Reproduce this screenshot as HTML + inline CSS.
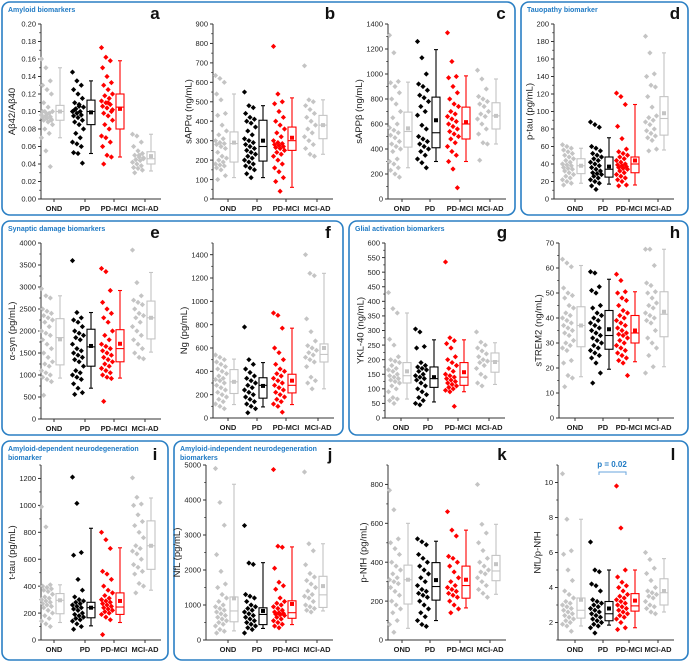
<!DOCTYPE html>
<html><head><meta charset="utf-8"><style>
body{margin:0;background:#fff;}
svg{display:block;font-family:"Liberation Sans",sans-serif;}
</style></head><body>
<svg id="fig" width="690" height="662" viewBox="0 0 690 662" xmlns="http://www.w3.org/2000/svg"></svg>
<script>
const groupNames = ["OND","PD","PD-MCI","MCI-AD"];
// panel a
const aDots = [[0.16,0.15,0.135,0.13,0.125,0.12,0.11,0.105,0.10,0.10,0.098,0.096,0.095,0.094,0.093,0.092,0.09,0.09,0.088,0.085,0.08,0.075,0.07,0.055,0.037,0.1,0.097,0.091],
[0.145,0.135,0.13,0.125,0.12,0.115,0.11,0.108,0.105,0.103,0.1,0.1,0.098,0.096,0.095,0.093,0.09,0.088,0.085,0.08,0.075,0.07,0.065,0.063,0.06,0.053,0.052,0.041,0.102,0.106],
[0.173,0.162,0.158,0.15,0.14,0.133,0.13,0.125,0.12,0.118,0.115,0.112,0.11,0.108,0.106,0.104,0.1,0.098,0.095,0.09,0.085,0.08,0.072,0.07,0.065,0.06,0.05,0.048,0.04,0.11,0.102],
[0.074,0.072,0.065,0.06,0.055,0.052,0.05,0.048,0.047,0.045,0.044,0.042,0.04,0.038,0.036,0.035,0.033,0.03,0.05,0.046]];
const aBox = [[0.07,0.09,0.10,0.107,0.15,0.10],[0.052,0.085,0.10,0.113,0.135,0.099],[0.048,0.08,0.105,0.12,0.158,0.103],[0.032,0.04,0.046,0.054,0.074,0.049]];
// panel b
const bDots = [[635,620,600,540,510,440,430,380,350,330,310,300,290,285,280,270,260,240,220,210,200,190,180,175,170,160,150,120,100],
[550,480,470,440,420,410,400,390,370,350,330,310,300,290,280,270,260,250,240,230,220,210,200,190,180,170,160,150,130,110],
[785,540,500,490,450,420,400,380,360,340,320,300,290,285,280,275,270,265,260,250,240,230,220,200,180,160,140,110,90,40],
[685,510,500,480,460,440,420,400,380,360,340,320,300,280,260,230,220]];
const bBox = [[110,190,285,345,540,290],[110,195,270,405,480,300],[60,250,300,370,520,315],[230,310,380,430,510,380]];
// panel c
const cDots = [[1310,1170,940,930,900,850,800,760,700,650,600,570,550,530,510,490,460,440,420,400,380,320,300,280,250,230,200,175],
[1260,1130,1000,920,900,870,830,810,780,740,700,670,590,560,500,480,460,440,420,400,380,350,320,290,250],
[1330,1100,980,970,900,850,800,760,740,700,680,660,640,620,600,580,560,540,520,500,480,450,420,380,350,300,240,90],
[1030,960,880,820,800,780,760,740,700,680,660,640,600,560,520,450,440,310]];
const cBox = [[250,415,540,695,935,565],[300,410,530,815,1195,630],[300,480,600,735,985,615],[440,560,665,770,960,665]];
// panel d
const dDots = [[62,60,58,56,54,52,50,48,46,44,42,40,39,38,36,35,34,32,30,28,26,24,22,20,18,16],
[88,85,82,60,58,55,52,50,48,46,44,42,40,38,36,34,32,30,29,28,26,24,22,20,18,15,11],
[121,117,108,83,69,57,54,52,50,48,46,44,42,40,39,38,37,36,35,34,32,30,28,26,24,22,20,16,15],
[186,167,143,140,130,128,117,105,95,93,90,88,85,80,78,75,72,70,67,57,55]];
const dBox = [[18,29,38,46,58,38],[17,25,34,48,70,37],[16,30,40,48,108,44],[56,73,92,117,167,98]];
// panel e
const eDots = [[2960,2800,2750,2500,2450,2400,2350,2300,2250,2200,2100,2000,1950,1900,1800,1700,1600,1500,1400,1300,1250,1200,1100,1050,1000,950,900,850,540],
[3600,2420,2300,2250,2200,2100,2000,1950,1900,1850,1800,1700,1600,1550,1500,1450,1400,1350,1300,1200,1100,1050,1000,950,900,800,700,600,560],
[3420,3350,2920,2650,2500,2400,2300,2200,2000,1900,1800,1700,1650,1600,1550,1500,1450,1400,1350,1300,1250,1200,1150,1100,1050,1000,950,920,400],
[3840,3100,2800,2700,2650,2600,2500,2400,2350,2300,2200,2100,2000,1900,1800,1700,1600,1500,1400,1370]];
const eBox = [[930,1230,1850,2280,2800,1810],[700,1200,1640,2040,2420,1660],[930,1300,1600,2030,2920,1710],[1520,1820,2300,2680,3330,2300]];
// panel f
const fDots = [[540,520,500,480,460,440,420,400,380,360,340,330,320,300,280,260,240,220,200,180,160,140,120,100,80],
[780,500,460,420,390,360,340,320,300,280,260,240,220,200,180,160,140,120,100,80,45],
[900,880,770,600,560,500,460,420,400,380,360,340,320,300,280,260,240,220,200,180,160,140,120,100,50],
[1400,1240,1220,850,740,660,620,600,580,560,540,520,500,480,440,350,320,300,250]];
const fBox = [[115,210,310,415,505,310],[95,170,280,345,475,275],[115,215,280,375,770,320],[250,480,545,635,1240,600]];
// panel g
const gDots = [[430,375,360,270,250,210,200,195,190,180,170,165,160,150,145,140,135,130,125,120,110,100,90,70,65,60,50],
[305,295,245,240,190,180,175,170,165,160,150,145,140,135,130,120,110,100,90,80,70,60,50,45],
[535,275,265,255,240,210,200,190,180,170,160,150,145,140,135,130,125,120,115,110,105,100,95,90,40],
[295,260,250,240,230,220,210,200,195,190,180,170,150,140,120,110]];
const gBox = [[65,120,145,190,360,160],[55,105,135,175,268,140],[90,112,140,190,268,157],[115,157,195,223,258,192]];
// panel h
const hDots = [[63.5,62,60.5,52,50,49,48,45,44,42,41,40,39,38,37,36,35,34,33,31,30,29,28,27,23,22,17,16,12.5],
[58.5,58,52.5,51,50,45,44,42,41,40,39,38,37,36,35,34,33,32,31,30,29,28,27,26,25,24,22,18,14],
[57.5,55,50.5,50,48,47,45,43,42,41,40,39,38,37,36,35,34,33.5,33,32,31,30,29,28,27,26,25,24,23,22,17],
[67.5,67.5,61,54,53,50.5,50,48,46,45,44,42,41,40,39,38,35,32,30,28,25,20.5,18]];
const hBox = [[16.5,28.5,37,44.5,61,37],[19.5,27.5,33,43,55.5,35.5],[22.5,30,34,41,50.5,35],[20.5,32.5,41.5,50.5,67.5,42.5]];
// panel i
const iDots = [[990,840,410,400,390,380,370,360,340,320,310,300,290,280,270,260,250,240,220,200,180,160,140,120,100],
[1210,1015,650,630,450,370,320,300,290,280,270,260,250,240,230,220,200,190,180,170,160,150,140,120,100,80],
[800,745,680,510,490,450,400,370,350,330,310,300,290,280,270,260,250,240,230,220,210,200,190,170,150,40],
[1205,1060,1010,1000,930,880,850,800,760,700,680,660,640,600,560,540,510,490,420,400,350]];
const iBox = [[130,195,295,345,410,295],[105,165,240,280,830,240],[130,190,245,350,685,290],[370,525,700,885,1055,700]];
// panel j
const jDots = [[4900,3930,3280,2440,1960,1600,1500,1300,1200,1100,1000,950,900,850,800,750,700,650,600,550,500,450,400,300,250,200],
[3270,2200,2160,1300,1250,1200,1100,1000,950,900,850,800,750,700,650,600,550,500,450,400,350,300,200],
[4870,2680,2650,2050,1650,1550,1450,1200,1100,1050,1000,950,900,850,800,780,760,740,720,700,650,600,550,500,450,400,350],
[4800,2750,2550,2150,1900,1800,1700,1600,1500,1400,1300,1250,1200,1100,1000,950,900,850,800]];
const jBox = [[260,520,830,1230,4450,1190],[330,440,730,920,2210,830],[440,620,780,1120,2660,1030],[830,930,1290,1820,2750,1540]];
// panel k
const kDots = [[770,670,520,500,470,440,400,380,360,340,320,310,300,290,270,250,230,200,180,160,140,100,80,40],
[520,505,490,440,420,400,380,360,340,320,300,280,260,250,240,230,220,200,180,160,140,120,100,80,70],
[660,565,535,430,420,400,380,350,320,300,280,270,260,250,240,230,220,200,180,160,140],
[800,595,550,500,460,420,400,380,360,350,340,320,300,280,260,240,220]];
const kBox = [[60,185,310,385,600,310],[100,205,275,398,508,308],[165,215,280,380,565,310],[235,305,355,435,595,390]];
// panel l
const lDots = [[10.5,7.9,6.1,5.9,5,4.4,3.8,3.6,3.4,3.2,3.1,3.0,2.9,2.8,2.7,2.6,2.5,2.4,2.3,2.2,2.1,2.0,1.9,1.8,1.5],
[6.6,5.0,4.9,4.2,4.1,3.8,3.3,3.2,3.1,3.0,2.9,2.8,2.7,2.6,2.5,2.4,2.3,2.2,2.1,2.0,1.9,1.8,1.7,1.4],
[9.8,7.4,5.0,4.6,4.3,4.1,4.0,3.8,3.6,3.5,3.4,3.3,3.2,3.1,3.0,2.9,2.8,2.7,2.6,2.5,2.4,2.3,2.2,2.0,1.7,1.6],
[6.0,5.6,5.1,4.8,4.4,4.0,3.8,3.7,3.6,3.5,3.4,3.2,3.0,2.9,2.8,2.6,2.5]];
const lBox = [[1.8,2.25,2.7,3.4,7.9,3.3],[1.85,2.1,2.5,3.2,5.0,2.8],[1.7,2.65,2.95,3.65,5.0,3.25],[2.6,3.0,3.7,4.5,5.65,3.8]];

const NS="http://www.w3.org/2000/svg";
const svg=document.getElementById('fig');
function mk(tag,attrs,parent){const e=document.createElementNS(NS,tag);for(const k in attrs)e.setAttribute(k,attrs[k]);(parent||svg).appendChild(e);return e;}
const colors=["#c4c4c4","#000000","#ff0000","#c4c4c4"];

const sections=[
 {x:2,y:2,w:513,h:213,t:["Amyloid biomarkers"],n:"amyloid-section"},
 {x:521,y:2,w:167,h:213,t:["Tauopathy biomarker"],n:"tauopathy-section"},
 {x:2,y:221,w:341,h:214,t:["Synaptic damage biomarkers"],n:"synaptic-section"},
 {x:349,y:221,w:339,h:214,t:["Glial activation biomarkers"],n:"glial-section"},
 {x:2,y:441,w:166,h:219,t:["Amyloid-dependent  neurodegeneration","biomarker"],n:"amyloid-dependent-section"},
 {x:174,y:441,w:514,h:219,t:["Amyloid-independent neurodegeneration","biomarkers"],n:"amyloid-independent-section"}];
sections.forEach(s=>{
 const r=mk('rect',{x:s.x,y:s.y,width:s.w,height:s.h,rx:8,fill:'none',stroke:'#2a7fc4','stroke-width':1.6});
 
 
 s.t.forEach((line,i)=>{
  const t=mk('text',{x:s.x+6,y:s.y+10+i*9,'font-size':7,'font-weight':'bold',fill:'#1f7ac4'});
  t.textContent=line;
  
  
 });
});

const panels=[
 {id:'a',ax:41,top:24,bot:199,min:0,max:0.2,ticks:[0,0.02,0.04,0.06,0.08,0.10,0.12,0.14,0.16,0.18,0.20],dec:2,title:'Aβ42/Aβ40',off:[13,44,73,104],dots:aDots,box:aBox,lx:155},
 {id:'b',ax:213,top:24,bot:199,min:0,max:900,ticks:[0,100,200,300,400,500,600,700,800,900],dec:0,title:'sAPPα (ng/mL)',off:[15,44,73,104],dots:bDots,box:bBox,lx:330},
 {id:'c',ax:388,top:24,bot:199,min:0,max:1400,ticks:[0,200,400,600,800,1000,1200,1400],dec:0,title:'sAPPβ (ng/mL)',off:[14,42,72,102],dots:cDots,box:cBox,lx:501},
 {id:'d',ax:554,top:24,bot:199,min:0,max:200,ticks:[0,20,40,60,80,100,120,140,160,180,200],dec:0,title:'p-tau (pg/mL)',off:[21,49,75,104],dots:dDots,box:dBox,lx:675},
 {id:'e',ax:41,top:243,bot:419,min:0,max:4000,ticks:[0,500,1000,1500,2000,2500,3000,3500,4000],dec:0,title:'α-syn (pg/mL)',off:[13,44,73,104],dots:eDots,box:eBox,lx:155},
 {id:'f',ax:213,top:243,bot:418,min:0,max:1500,ticks:[0,200,400,600,800,1000,1200,1400],dec:0,title:'Ng (pg/mL)',off:[15,44,73,105],dots:fDots,box:fBox,lx:328},
 {id:'g',ax:385,top:243,bot:418,min:0,max:600,ticks:[0,50,100,150,200,250,300,350,400,450,500,550,600],dec:0,title:'YKL-40 (ng/mL)',off:[16,43,73,104],dots:gDots,box:gBox,lx:502},
 {id:'h',ax:559,top:243,bot:418,min:0,max:70,ticks:[0,10,20,30,40,50,60,70],dec:0,title:'sTREM2 (ng/mL)',off:[16,44,70,99],dots:hDots,box:hBox,lx:675},
 {id:'i',ax:41,top:465,bot:640,min:0,max:1300,ticks:[0,200,400,600,800,1000,1200],dec:0,title:'t-tau (pg/mL)',off:[13,44,73,104],dots:iDots,box:iBox,lx:155},
 {id:'j',ax:206,top:465,bot:640,min:0,max:5000,ticks:[0,1000,2000,3000,4000,5000],dec:0,title:'NfL (pg/mL)',off:[22,51,80,111],dots:jDots,box:jBox,lx:330},
 {id:'k',ax:388,top:465,bot:640,min:0,max:900,ticks:[0,200,400,600,800],dec:0,title:'p-NfH (pg/mL)',off:[14,42,72,102],dots:kDots,box:kBox,lx:502},
 {id:'l',ax:558,top:465,bot:640,min:1,max:11,ticks:[2,4,6,8,10],dec:0,title:'NfL/p-NfH',off:[17,45,71,100],dots:lDots,box:lBox,lx:673}];

panels.forEach(p=>{
 const g=mk('g',{});
 
 
 const y=v=>p.bot-(v-p.min)/(p.max-p.min)*(p.bot-p.top);
 const cx=i=>p.ax+p.off[i];
 const xEnd=cx(3)+16;
 const ya=mk('line',{x1:p.ax,y1:p.top,x2:p.ax,y2:p.bot,stroke:'#333','stroke-width':1},g);
 
 
 const xa=mk('line',{x1:p.ax,y1:p.bot,x2:xEnd,y2:p.bot,stroke:'#333','stroke-width':1},g);
 
 
 const step=p.ticks[1]-p.ticks[0];
 let maxLen=0;
 p.ticks.forEach((t,k)=>{
  const yy=y(t);
  mk('line',{x1:p.ax-3,y1:yy,x2:p.ax,y2:yy,stroke:'#333','stroke-width':1},g);
  const mv=t+step/2;
  if(mv<=p.max){mk('line',{x1:p.ax-1.8,y1:y(mv),x2:p.ax,y2:y(mv),stroke:'#333','stroke-width':0.8},g);}
  const tl=mk('text',{x:p.ax-5,y:yy+2.7,'font-size':7.5,'text-anchor':'end',fill:'#222'},g);
  tl.textContent=t.toFixed(p.dec);
  maxLen=Math.max(maxLen,tl.textContent.length);
  
  
 });
 if(p.ticks[0]-step/2>=p.min){mk('line',{x1:p.ax-1.8,y1:y(p.ticks[0]-step/2),x2:p.ax,y2:y(p.ticks[0]-step/2),stroke:'#333','stroke-width':0.8},g);}
 const tx=p.ax-5-maxLen*4.2-4, ty=(p.top+p.bot)/2;
 const yt=mk('text',{x:tx,y:ty,'font-size':9.5,'text-anchor':'middle',fill:'#222',transform:`rotate(-90 ${tx} ${ty})`},g);
 yt.textContent=p.title;
 
 
 const lt=mk('text',{x:p.lx,y:p.top-5,'font-size':17,'font-weight':'bold','text-anchor':'middle',fill:'#111'},g);
 lt.textContent=p.id;
 
 
 groupNames.forEach((gn,i)=>{
  const c=colors[i];
  mk('line',{x1:cx(i),y1:p.bot,x2:cx(i),y2:p.bot+3,stroke:'#333','stroke-width':1},g);
  const xl=mk('text',{x:cx(i),y:p.bot+12,'font-size':7.5,'font-weight':'bold','text-anchor':'middle',fill:'#222'},g);
  xl.textContent=gn;
  
  
  p.dots[i].forEach((v,k)=>{
   const jx=cx(i)-7+(((k*37)%11)-5)*1.1;
   const yy=y(v), s=2.6;
   const d=mk('path',{d:`M${jx} ${yy-s}L${jx+s} ${yy}L${jx} ${yy+s}L${jx-s} ${yy}Z`,fill:c},g);
   
   
  });
  const b=p.box[i], bx=cx(i)+6, bw=8;
  const bg=mk('g',{stroke:c,'stroke-width':1.1,fill:'none'},g);
  
  
  mk('line',{x1:bx,y1:y(b[0]),x2:bx,y2:y(b[1])},bg);
  mk('line',{x1:bx,y1:y(b[3]),x2:bx,y2:y(b[4])},bg);
  mk('line',{x1:bx-2,y1:y(b[0]),x2:bx+2,y2:y(b[0])},bg);
  mk('line',{x1:bx-2,y1:y(b[4]),x2:bx+2,y2:y(b[4])},bg);
  mk('rect',{x:bx-bw/2,y:y(b[3]),width:bw,height:Math.max(0.5,y(b[1])-y(b[3])),fill:'#fff'},bg);
  mk('line',{x1:bx-bw/2,y1:y(b[2]),x2:bx+bw/2,y2:y(b[2])},bg);
  mk('rect',{x:bx-2,y:y(b[5])-2,width:4,height:4,fill:c,stroke:'none'},bg);
 });
 if(p.id==='l'){
  const br=mk('path',{d:`M${cx(1)-4} ${y(10.6)+3}V${y(10.6)}H${cx(2)-3}V${y(10.6)+3}`,fill:'none',stroke:'#6aa6dd','stroke-width':1},g);
  
  
  const pt=mk('text',{x:(cx(1)+cx(2))/2-4,y:y(10.6)-5,'font-size':8,'font-weight':'bold','text-anchor':'middle',fill:'#1f7ac4'},g);
  pt.textContent='p = 0.02';
  
  
 }
});
</script>
</body></html>
